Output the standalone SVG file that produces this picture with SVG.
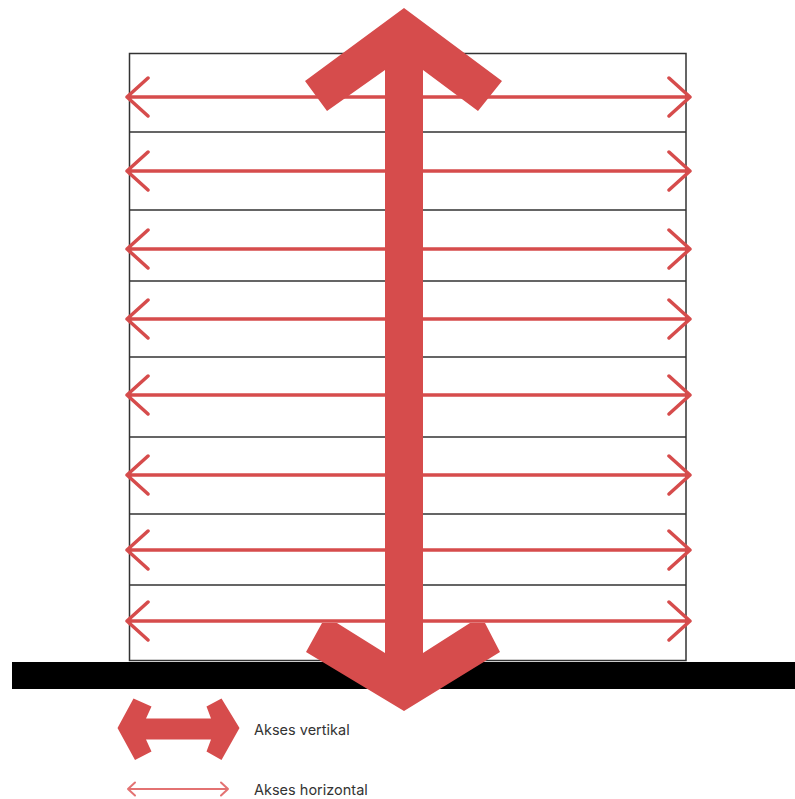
<svg xmlns="http://www.w3.org/2000/svg" width="795" height="799" viewBox="0 0 795 799">
<defs>
<style>
.floor{stroke:#333;stroke-width:1.5;fill:none}
.h{stroke:#d64c4c;stroke-width:3.5;fill:none;stroke-linecap:round;stroke-linejoin:round}
.big{fill:#d64c4c}
.lbl{font-family:Inter,"Liberation Sans",sans-serif;font-size:14.5px;fill:#333}
</style>
<g id="harrow">
<path class="h" d="M127,0 H689 M148,-19 L127,0 L148,19 M669,-19 L690,0 L669,19"/>
</g>
</defs>
<rect width="795" height="799" fill="#fff"/>
<g id="building">
<rect x="129.5" y="53.5" width="556.5" height="607" fill="#fff" class="floor"/>
<path class="floor" d="M129.5,132 H686 M129.5,210 H686 M129.5,281 H686 M129.5,357 H686 M129.5,437 H686 M129.5,514 H686 M129.5,585 H686"/>
</g>
<g id="ground">
<rect x="12" y="662" width="783" height="27" fill="#000"/>
</g>
<g id="connectors">
<use href="#harrow" y="97"/>
<use href="#harrow" y="171"/>
<use href="#harrow" y="249"/>
<use href="#harrow" y="319"/>
<use href="#harrow" y="395"/>
<use href="#harrow" y="475"/>
<use href="#harrow" y="550"/>
<use href="#harrow" y="621"/>
<polygon id="vertical-access" class="big" points="404,8 502,81 478,111 423,70 423,653 470,623 485,623 500,652 404,711 306,652 322,623 337,623 385,653 385,70 327,111 305,81"/>
</g>
<g id="legend-vertical">
<polygon class="big" points="117.5,728 133.5,698.5 151.5,706.5 146,718.5 211,718.5 206.5,706.5 221.5,698.5 239.5,728 221.5,760 206.5,751.5 211,739.5 146,739.5 151.5,751.5 135,760"/>
<text class="lbl" x="254" y="735">Akses vertikal</text>
</g>
<g id="legend-horizontal">
<path d="M128,789 H228 M135,782.5 L128,789 L135,795.5 M221,782.5 L228,789 L221,795.5" stroke="#e37272" stroke-width="2" fill="none" stroke-linecap="round" stroke-linejoin="round"/>
<text class="lbl" x="254" y="795">Akses horizontal</text>
</g>
</svg>
